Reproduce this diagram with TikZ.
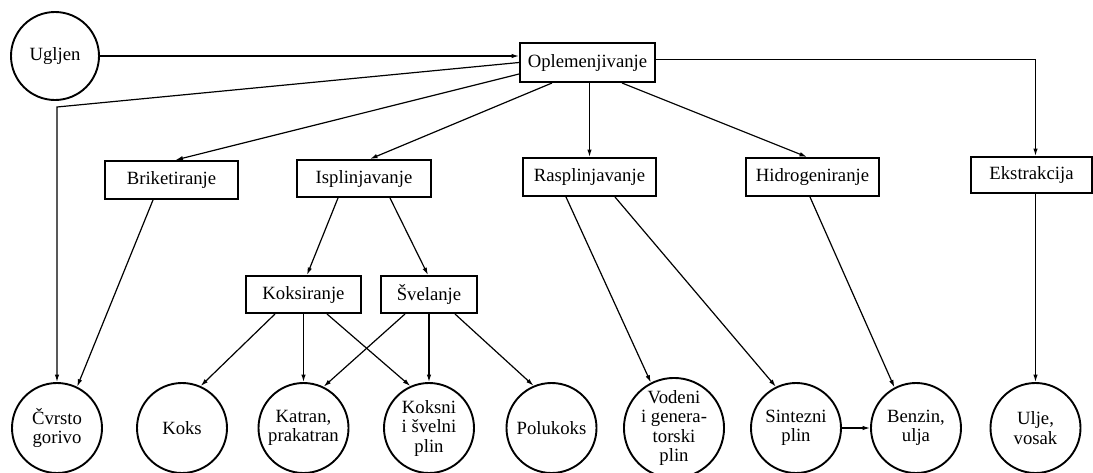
\documentclass[tikz,border=0pt]{standalone}
\usepackage{fontspec}
\setmainfont{Liberation Serif}
\usetikzlibrary{arrows.meta,calc}
\begin{document}
\begin{tikzpicture}[x=1pt,y=-1pt,
  every node/.style={font=\fontsize{18.7}{19.5}\selectfont, align=center, inner sep=0pt},
  proc/.style={draw, line width=2pt, minimum width=#1, minimum height=37pt},
  prod/.style={draw, circle, line width=1.9pt, minimum size=90pt},
  conn/.style={line width=1.2pt},
  arr/.style={conn, -{Latex[length=7.5pt,width=4.5pt]}}]
\useasboundingbox (0,0) rectangle (1093,472);
\fill[white] (0,0) rectangle (1093,472);
% nodes
\node[prod, minimum size=88pt] (ugljen) at (55,56) {Ugljen};
\node[proc=135pt, minimum height=39pt] (opl) at (587.5,62.5) {Oplemenjivanje};
\node[proc=133pt, minimum height=38pt] (brik) at (171.5,180) {Briketiranje};
\node[proc=134pt] (isp) at (364,178.5) {Isplinjavanje};
\node[proc=133pt, minimum height=38pt] (rasp) at (589.5,177) {Rasplinjavanje};
\node[proc=133pt, minimum height=38pt] (hidro) at (812.5,177) {Hidrogeniranje};
\node[proc=121pt, minimum height=36pt] (ekst) at (1031.5,175) {Ekstrakcija};
\node[proc=115pt] (kok) at (303.5,294.5) {Koksiranje};
\node[proc=96pt] (sve) at (429,294.5) {Švelanje};
\node[prod] (cv) at (57,428) {Čvrsto\\gorivo};
\node[prod] (koks) at (182,428) {Koks};
\node[prod] (katran) at (303.5,428) {Katran,\\prakatran};
\node[prod] (koksni) at (429,428) {Koksni\\i švelni\\plin};
\node[prod] (poluk) at (551.5,428) {Polukoks};
\node[prod] (vodeni) at (674,428) {Vodeni\\i genera-\\torski\\plin};
\node[prod] (sint) at (796,428) {Sintezni\\plin};
\node[prod] (benzin) at (916,428) {Benzin,\\ulja};
\node[prod] (ulje) at (1035.5,428) {Ulje,\\vosak};
\coordinate (cvc) at (57,107);
\coordinate (oe) at ($(opl.east)+(0,-3)$);
% connectors
\draw[arr] (ugljen.east) -- (ugljen.east -| opl.west);
\draw[arr] (opl.west) -- (cvc) -- (cv.north);
\draw[arr] ($(opl.south west)+(0,-9)$) -- ($(brik.north)+(4,0)$);
\draw[arr] ($(opl.south west)+(33,0)$) -- ($(isp.north)+(6,0)$);
\draw[arr] (rasp.north |- opl.south) -- (rasp.north);
\draw[arr] ($(opl.south west)+(103,0)$) -- ($(hidro.north)+(-5.5,0)$);
\draw[arr] (oe) -- (oe -| ulje.north) -- (ulje.north |- ekst.north);
\draw[arr] ($(brik.south)+(-18.5,0)$) -- (cv.64);
\draw[arr] ($(isp.south)+(-26,0)$) -- ($(kok.north)+(3.5,0)$);
\draw[arr] ($(isp.south)+(26,0)$) -- ($(sve.north)+(-1,0)$);
\draw[arr] ($(kok.south)+(-28.5,0)$) -- (koks.66);
\draw[arr] (kok.south) -- (katran.north);
\draw[arr] ($(kok.south)+(23.5,0)$) -- (koksni.114);
\draw[arr] ($(sve.south)+(-24,0)$) -- (katran.64);
\draw[arr] (sve.south) -- (koksni.north);
\draw[arr] ($(sve.south)+(26,0)$) -- (poluk.113);
\draw[arr] ($(rasp.south)+(-23.5,0)$) -- (vodeni.117);
\draw[arr] ($(rasp.south)+(25.5,0)$) -- (sint.116);
\draw[arr] ($(hidro.south)+(-2.5,0)$) -- (benzin.118);
\draw[arr] (ulje.north |- ekst.south) -- (ulje.north);
\draw[arr] (sint.east) -- (benzin.west);
\end{tikzpicture}
\end{document}
